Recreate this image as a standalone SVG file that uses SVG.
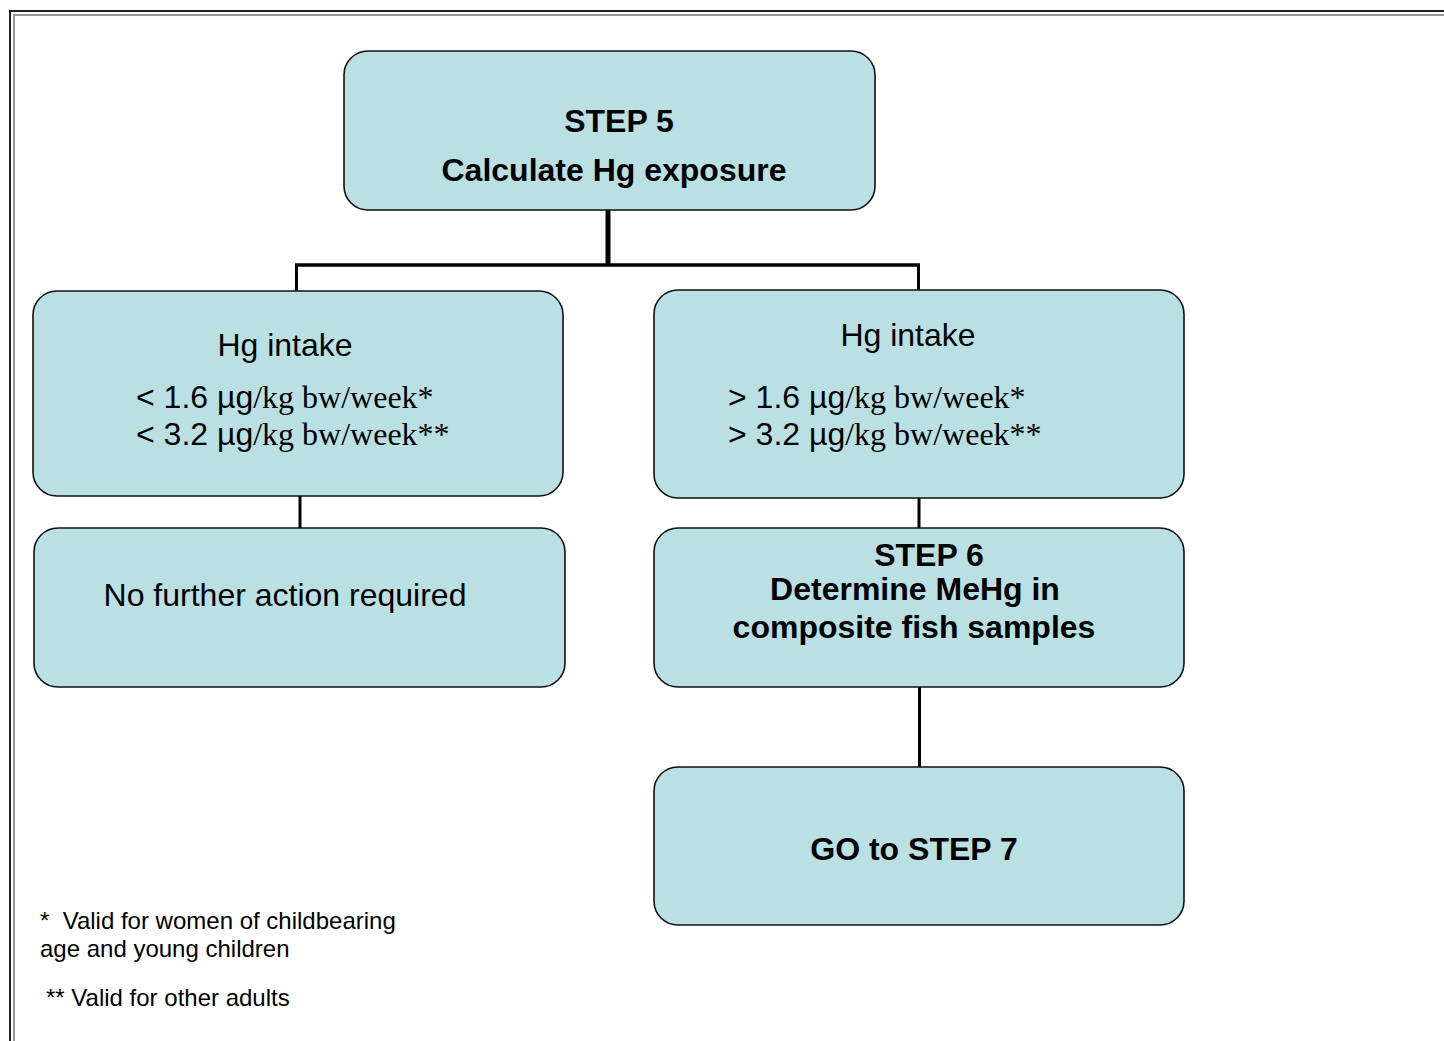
<svg xmlns="http://www.w3.org/2000/svg" width="1444" height="1041" viewBox="0 0 1444 1041">
<style>
.box{fill:#BBE0E3;stroke:#111;stroke-width:1.6}
.sans{font-family:"Liberation Sans",Arial,sans-serif;fill:#000}
.b{font-weight:bold}
.ser{font-family:"Liberation Serif","Times New Roman",serif}
.big{font-size:32px}
.foot{font-size:24px}
.ln{stroke:#000;fill:none}
</style>
<rect width="1444" height="1041" fill="#fff"/>
<g id="frame">
<path d="M10 1041 V11 H1444" fill="none" stroke="#222" stroke-width="2"/>
<path d="M14 1041 V15 H1444" fill="none" stroke="#999" stroke-width="2"/>
</g>
<g id="connectors">
<line class="ln" x1="608" y1="210" x2="608" y2="266" stroke-width="5"/>
<line class="ln" x1="295" y1="265" x2="920" y2="265" stroke-width="3.5"/>
<line class="ln" x1="296.5" y1="264" x2="296.5" y2="291" stroke-width="3"/>
<line class="ln" x1="918.5" y1="264" x2="918.5" y2="290" stroke-width="3"/>
<line class="ln" x1="300" y1="496" x2="300" y2="528" stroke-width="3"/>
<line class="ln" x1="919" y1="498" x2="919" y2="528" stroke-width="3"/>
<line class="ln" x1="919.5" y1="687" x2="919.5" y2="767" stroke-width="3"/>
</g>
<g id="step5">
<rect class="box" x="344" y="51" width="531" height="159" rx="24"/>
<text class="sans b big" x="619" y="132" text-anchor="middle">STEP 5</text>
<text class="sans b big" x="614" y="181" text-anchor="middle">Calculate Hg exposure</text>
</g>
<g id="low">
<rect class="box" x="33" y="291" width="530" height="205" rx="24"/>
<text class="sans big" x="285" y="356" text-anchor="middle">Hg intake</text>
<text class="sans big" x="136" y="408">&lt; 1.6 µg<tspan class="ser">/kg bw/week*</tspan></text>
<text class="sans big" x="136" y="445">&lt; 3.2 µg<tspan class="ser">/kg bw/week**</tspan></text>
</g>
<g id="high">
<rect class="box" x="654" y="290" width="530" height="208" rx="24"/>
<text class="sans big" x="908" y="346" text-anchor="middle">Hg intake</text>
<text class="sans big" x="728" y="408">&gt; 1.6 µg<tspan class="ser">/kg bw/week*</tspan></text>
<text class="sans big" x="728" y="445">&gt; 3.2 µg<tspan class="ser">/kg bw/week**</tspan></text>
</g>
<g id="noaction">
<rect class="box" x="34" y="528" width="531" height="159" rx="24"/>
<text class="sans big" x="285" y="606" text-anchor="middle">No further action required</text>
</g>
<g id="step6">
<rect class="box" x="654" y="528" width="530" height="159" rx="24"/>
<text class="sans b big" x="929" y="566" text-anchor="middle">STEP 6</text>
<text class="sans b big" x="915" y="600" text-anchor="middle">Determine MeHg in</text>
<text class="sans b big" x="914" y="638" text-anchor="middle">composite fish samples</text>
</g>
<g id="step7">
<rect class="box" x="654" y="767" width="530" height="158" rx="24"/>
<text class="sans b big" x="914" y="860" text-anchor="middle">GO to STEP 7</text>
</g>
<g id="footnotes">
<text class="sans foot" x="40" y="929" xml:space="preserve">*  Valid for women of childbearing</text>
<text class="sans foot" x="40" y="957">age and young children</text>
<text class="sans foot" x="46" y="1006">** Valid for other adults</text>
</g>
</svg>
